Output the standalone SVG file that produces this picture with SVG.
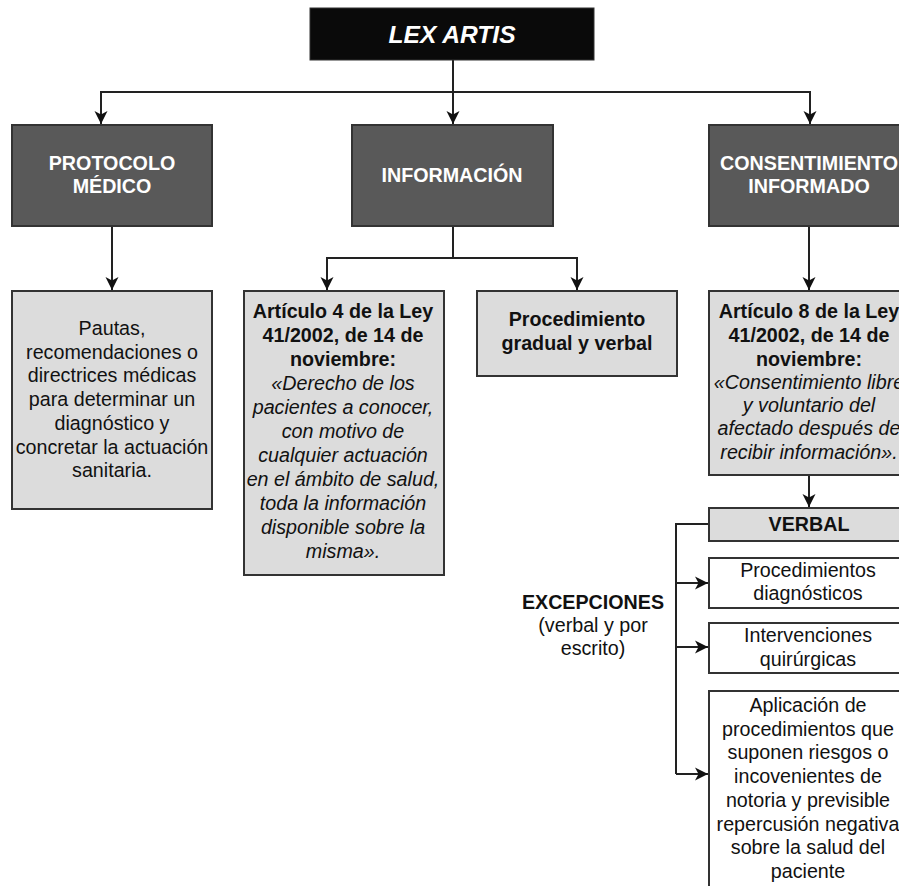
<svg xmlns="http://www.w3.org/2000/svg" width="899" height="886" viewBox="0 0 899 886">
<style>
text{font-family:"Liberation Sans",Arial,sans-serif;font-size:19.7px;text-anchor:middle;fill:#111}
.h{fill:#ffffff;font-weight:bold}
.b{font-weight:bold}
.i{font-style:italic}
.dark{fill:#595959;stroke:#333333;stroke-width:2}
.light{fill:#dcdcdc;stroke:#333333;stroke-width:2}
.white{fill:#ffffff;stroke:#333333;stroke-width:2}
.c{fill:none;stroke:#222222;stroke-width:2}
</style>
<defs>
<marker id="ar" markerUnits="userSpaceOnUse" markerWidth="14" markerHeight="14" viewBox="0 0 14 14" refX="13" refY="7" orient="auto">
<path d="M0,0.5 L13,7 L0,13.5 L3.5,7 z" fill="#111111"/>
</marker>
</defs>
<rect width="899" height="886" fill="#ffffff"/>
<g id="connectors">
<path class="c" d="M453,60 V124" marker-end="url(#ar)"/>
<path class="c" d="M453,92 H101 V124" marker-end="url(#ar)"/>
<path class="c" d="M453,92 H810 V124" marker-end="url(#ar)"/>
<path class="c" d="M112,226 V290" marker-end="url(#ar)"/>
<path class="c" d="M453,226 V258 H327 V290" marker-end="url(#ar)"/>
<path class="c" d="M453,258 H577 V290" marker-end="url(#ar)"/>
<path class="c" d="M809,226 V290" marker-end="url(#ar)"/>
<path class="c" d="M809,475 V507" marker-end="url(#ar)"/>
<path class="c" d="M709,524 H676 V774"/>
<path class="c" d="M676,583 H708" marker-end="url(#ar)"/>
<path class="c" d="M676,647 H708" marker-end="url(#ar)"/>
<path class="c" d="M676,774 H708" marker-end="url(#ar)"/>
</g>
<g id="lex-artis">
<rect x="310" y="8" width="284" height="52" fill="#0a0a0a" stroke="#333333" stroke-width="1"/>
<text x="452" y="43" class="h i" style="font-size:24.6px">LEX ARTIS</text>
</g>
<g id="protocolo">
<rect class="dark" x="12" y="125" width="200" height="101"/>
<text x="112" y="170" class="h">PROTOCOLO</text>
<text x="112" y="193" class="h">MÉDICO</text>
</g>
<g id="informacion">
<rect class="dark" x="352" y="125" width="201" height="101"/>
<text x="452" y="182" class="h">INFORMACIÓN</text>
</g>
<g id="consentimiento">
<rect class="dark" x="709" y="125" width="200" height="101"/>
<text x="809" y="170" class="h">CONSENTIMIENTO</text>
<text x="809" y="193" class="h">INFORMADO</text>
</g>
<g id="pautas">
<rect class="light" x="12" y="291" width="200" height="218"/>
<text x="112" y="335">Pautas,</text>
<text x="112" y="358.7">recomendaciones o</text>
<text x="112" y="382.4">directrices médicas</text>
<text x="112" y="406.1">para determinar un</text>
<text x="112" y="429.8">diagnóstico y</text>
<text x="112" y="453.5">concretar la actuación</text>
<text x="112" y="477.2">sanitaria.</text>
</g>
<g id="articulo4">
<rect class="light" x="244" y="291" width="200" height="284"/>
<text x="343" y="318" class="b">Artículo 4 de la Ley</text>
<text x="343" y="342" class="b">41/2002, de 14 de</text>
<text x="343" y="366" class="b">noviembre:</text>
<text x="343" y="390" class="i">«Derecho de los</text>
<text x="343" y="414" class="i">pacientes a conocer,</text>
<text x="343" y="438" class="i">con motivo de</text>
<text x="343" y="462" class="i">cualquier actuación</text>
<text x="343" y="486" class="i">en el ámbito de salud,</text>
<text x="343" y="510" class="i">toda la información</text>
<text x="343" y="534" class="i">disponible sobre la</text>
<text x="343" y="558" class="i">misma».</text>
</g>
<g id="procedimiento-gradual">
<rect class="light" x="477" y="291" width="200" height="85"/>
<text x="577" y="326" class="b">Procedimiento</text>
<text x="577" y="350" class="b">gradual y verbal</text>
</g>
<g id="articulo8">
<rect class="light" x="709" y="291" width="200" height="184"/>
<text x="809" y="318" class="b">Artículo 8 de la Ley</text>
<text x="809" y="342" class="b">41/2002, de 14 de</text>
<text x="809" y="366" class="b">noviembre:</text>
<text x="809" y="389" class="i">«Consentimiento libre</text>
<text x="809" y="412" class="i">y voluntario del</text>
<text x="809" y="435" class="i">afectado después de</text>
<text x="809" y="459" class="i">recibir información».</text>
</g>
<g id="verbal">
<rect class="light" x="709" y="508" width="200" height="33"/>
<text x="809" y="531" class="b">VERBAL</text>
</g>
<g id="excepciones">
<text x="593" y="609" class="b">EXCEPCIONES</text>
<text x="593" y="632">(verbal y por</text>
<text x="593" y="655">escrito)</text>
</g>
<g id="procedimientos-diagnosticos">
<rect class="white" x="709" y="558" width="200" height="50"/>
<text x="808" y="577">Procedimientos</text>
<text x="808" y="600">diagnósticos</text>
</g>
<g id="intervenciones">
<rect class="white" x="709" y="623" width="200" height="50"/>
<text x="808" y="642">Intervenciones</text>
<text x="808" y="666">quirúrgicas</text>
</g>
<g id="aplicacion">
<rect class="white" x="709" y="691" width="200" height="205"/>
<text x="808" y="712">Aplicación de</text>
<text x="808" y="735.7">procedimientos que</text>
<text x="808" y="759.4">suponen riesgos o</text>
<text x="808" y="783.1">incovenientes de</text>
<text x="808" y="806.8">notoria y previsible</text>
<text x="808" y="830.5">repercusión negativa</text>
<text x="808" y="854.2">sobre la salud del</text>
<text x="808" y="877.9">paciente</text>
</g>
</svg>
